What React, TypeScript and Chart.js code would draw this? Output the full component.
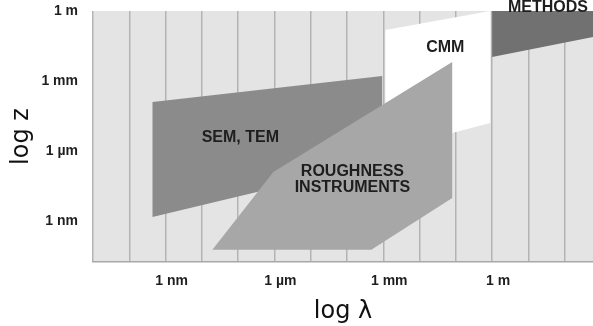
import React, { useEffect, useRef } from "react";
import { Chart, registerables } from "chart.js";

Chart.register(...registerables);

// Axis ticks (log10 of metres)
const xGridDecades = [-11, -10, -9, -8, -7, -6, -5, -4, -3, -2, -1, 0, 1, 2];
const xTickValues = [-9, -6, -3, 0];
const xTickLabels = ["1 nm", "1 \u00b5m", "1 mm", "1 m"];
const yTickValues = [0, -3, -6, -9];
const yTickLabels = ["1 m", "1 mm", "1 \u00b5m", "1 nm"];

// Regions (log λ, log z)
const semTemX = [-9.36, -3.03, -3.03, -9.36];
const semTemY = [-3.9, -2.79, -6.47, -8.83];
const cmmX = [-2.94, -0.05, -0.05, -1.1, -2.94];
const cmmY = [-0.81, 0.0, -4.8, -5.23, -5.96];
const roughnessX = [-7.71, -6.03, -1.1, -1.1, -3.33];
const roughnessY = [-10.24, -6.9, -2.19, -8.02, -10.24];
const methodsX = [0.0, 0.0, 2.78, 2.78];
const methodsY = [0.5, -1.97, -1.11, 0.5];

// Region labels
const labelTexts = [["SEM, TEM"], ["ROUGHNESS", "INSTRUMENTS"], ["CMM"], ["METHODS"]];
const labelX = [-6.94, -3.85, -1.29, 1.54];
const labelY = [-5.44, -7.22, -1.59, 0.15];

const toPts = (xs: number[], ys: number[]) => xs.map((x, i) => ({ x, y: ys[i] }));

export default function App() {
  const ref = useRef<HTMLCanvasElement | null>(null);

  useEffect(() => {
    if (!ref.current) return;
    const bgPlugin = {
      id: "plotBg",
      beforeDraw(chart: any) {
        const { ctx, chartArea } = chart;
        ctx.save();
        ctx.fillStyle = "#e4e4e4";
        ctx.fillRect(chartArea.left, chartArea.top, chartArea.right - chartArea.left, chartArea.bottom - chartArea.top);
        ctx.restore();
      },
    };
    const labelPlugin = {
      id: "regionLabels",
      afterDatasetsDraw(chart: any) {
        const { ctx, scales } = chart;
        ctx.save();
        ctx.fillStyle = "#1e1e1e";
        ctx.font = "bold 16px 'Liberation Sans', Arial, sans-serif";
        ctx.textAlign = "center";
        ctx.textBaseline = "middle";
        labelTexts.forEach((lines, i) => {
          const px = scales.x.getPixelForValue(labelX[i]);
          const py = scales.y.getPixelForValue(labelY[i]);
          const lh = 16;
          lines.forEach((t, j) => {
            ctx.fillText(t, px, py + (j - (lines.length - 1) / 2) * lh);
          });
        });
        ctx.restore();
      },
    };

    const mk = (label: string, xs: number[], ys: number[], color: string, order: number) => ({
      type: "line" as const,
      label,
      data: toPts(xs, ys),
      backgroundColor: color,
      borderColor: color,
      borderWidth: 0,
      pointRadius: 0,
      fill: "shape",
      tension: 0,
      order,
    });

    const tickFont = { family: "'Liberation Sans', Arial, sans-serif", size: 14, weight: "bold" };
    const titleFont = { family: "'DejaVu Sans', sans-serif", size: 24, weight: "normal" };

    const chart = new Chart(ref.current, {
      type: "line",
      data: {
        datasets: [
          mk("METHODS", methodsX, methodsY, "#717171", 1),
          mk("ROUGHNESS INSTRUMENTS", roughnessX, roughnessY, "#a7a7a7", 2),
          mk("CMM", cmmX, cmmY, "#ffffff", 3),
          mk("SEM, TEM", semTemX, semTemY, "#8b8b8b", 4),
        ] as any,
      },
      options: {
        animation: false,
        responsive: false,
        layout: { padding: { top: 11, left: 0, right: 0, bottom: 0 } },
        plugins: { legend: { display: false }, tooltip: { enabled: false } },
        scales: {
          x: {
            type: "linear",
            min: -11,
            max: 2.78,
            afterBuildTicks: (s: any) => {
              s.ticks = xGridDecades.map((v) => ({ value: v }));
            },
            afterFit: (s: any) => {
              s.height = 64;
              s.paddingLeft = 0;
              s.paddingRight = 0;
            },
            grid: { color: "#b3b3b3", lineWidth: 1.5, drawTicks: false },
            border: { display: true, color: "#a8a8a8", width: 1.5 },
            ticks: {
              autoSkip: false,
              maxRotation: 0,
              padding: 11,
              labelOffset: 6,
              color: "#1e1e1e",
              font: tickFont,
              callback: (v: any) => {
                const i = xTickValues.indexOf(Number(v));
                return i >= 0 ? xTickLabels[i] : "";
              },
            },
            title: {
              display: true,
              text: "log \u03bb",
              color: "#111",
              font: titleFont,
              padding: { top: 0, bottom: 0 },
            },
          },
          y: {
            type: "linear",
            min: -10.76,
            max: 0,
            afterBuildTicks: (s: any) => {
              s.ticks = yTickValues.map((v) => ({ value: v }));
            },
            afterFit: (s: any) => {
              s.width = 93;
              s.paddingTop = 0;
              s.paddingBottom = 0;
            },
            grid: { display: false, drawTicks: false },
            border: { display: false },
            ticks: {
              autoSkip: false,
              padding: 15,
              color: "#1e1e1e",
              font: tickFont,
              callback: (v: any) => {
                const i = yTickValues.indexOf(Number(v));
                return i >= 0 ? yTickLabels[i] : "";
              },
            },
            title: {
              display: true,
              text: "log z",
              color: "#111",
              font: titleFont,
              padding: { top: 7, bottom: 0 },
            },
          },
        },
      } as any,
      plugins: [bgPlugin, labelPlugin],
    });
    return () => chart.destroy();
  }, []);

  return (
    <div style={{ position: "absolute", left: 0, top: 0, width: 593, height: 326, overflow: "hidden", background: "#fff" }}>
      <canvas ref={ref} width={593} height={326} style={{ display: "block" }} />
    </div>
  );
}
